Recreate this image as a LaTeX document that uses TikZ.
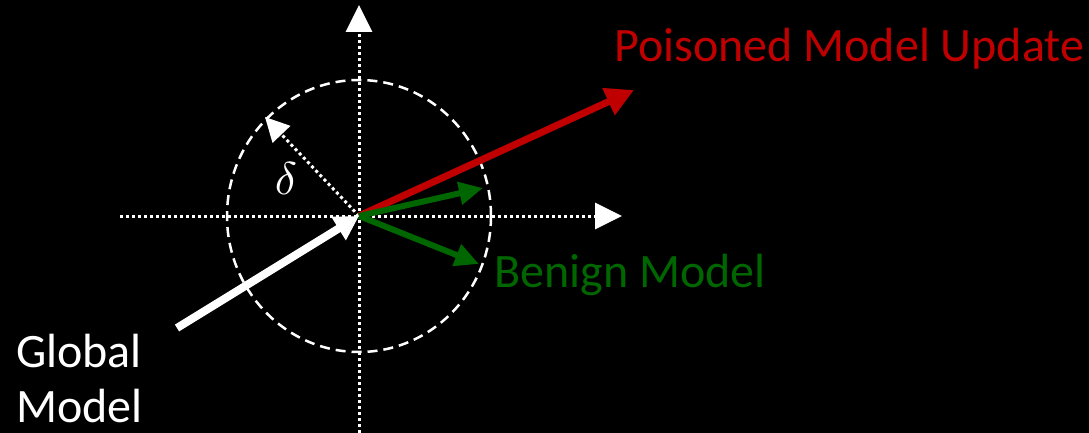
\documentclass[tikz,border=0pt]{standalone}
\usepackage{fontspec}
\setmainfont{Carlito}
\usetikzlibrary{arrows.meta}
\definecolor{pred}{RGB}{192,0,0}
\definecolor{pgreen}{RGB}{0,102,0}
\begin{document}
\begin{tikzpicture}[x=1pt,y=-1pt,
  axis/.style={white,line width=3pt,dash pattern=on 3pt off 3pt,-{Triangle[length=27pt,width=26pt]}},
  lbl/.style={font=\fontsize{48}{58}\selectfont,inner sep=0pt}]
\fill[black] (0,0) rectangle (1089,433);
\useasboundingbox (0,0) rectangle (1089,433);
\coordinate (O) at (359,216);
\coordinate (ybot) at (359,433);
\coordinate (ytop) at (359,5);
\coordinate (xl) at (120,216);
\coordinate (xr) at (622,216);
\coordinate (red) at (634,90);
\coordinate (g1) at (483,188);
\coordinate (g2) at (479,264);
\coordinate (wstart) at (177,328);
\coordinate (dtip) at (265,117);
% axes
\draw[axis] (ybot) -- (ytop);
\draw[axis] (xl) -- (xr);
% circle
\draw[white,line width=2.5pt,dash pattern=on 10pt off 6pt] (O) ellipse [x radius=132,y radius=136];
% delta
\draw[white,line width=3pt,dash pattern=on 3pt off 3pt,-{Triangle[length=24pt,width=24pt]}] (O) -- (dtip);
\node[white,inner sep=0pt] (delta) at (286,179) {\scalebox{4.6}{$\delta$}};
% global model arrow
\draw[white,line width=8pt,-{Triangle[length=24pt,width=26pt]}] (wstart) -- (O);
% poisoned
\draw[pred,line width=7pt,-{Triangle[length=28pt,width=28pt]}] (O) -- (red);
% benign
\draw[pgreen,line width=6pt,-{Triangle[length=24pt,width=22pt]}] (O) -- (g1);
\draw[pgreen,line width=6pt,-{Triangle[length=24pt,width=22pt]}] (O) -- (g2);
% labels
\node[pred,lbl,anchor=base west] (ptext) at (614,62) {Poisoned Model Update};
\node[pgreen,lbl,anchor=base west] (btext) at (494,287) {Benign Model};
\node[white,lbl,anchor=base west] (gtext1) at (16,367) {Global};
\node[white,lbl,anchor=base west] (gtext2) at (16,422) {Model};
\end{tikzpicture}
\end{document}
